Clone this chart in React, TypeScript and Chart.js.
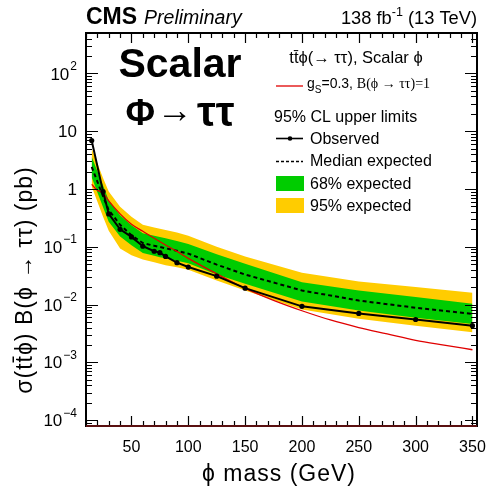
import { useEffect, useRef } from "react";
import { Chart, registerables } from "chart.js";

Chart.register(...registerables);

// Scalar phi mass points (GeV) and 95% CL upper limits on sigma x B (pb)
const massPoints = [15, 25, 30, 40, 50, 60, 70, 75, 80, 90, 100, 125, 150, 200, 250, 300, 350];
const observedLimit = [6.9, 0.9, 0.37, 0.2, 0.148, 0.102, 0.0835, 0.079, 0.068, 0.053, 0.0445, 0.031, 0.0192, 0.0093, 0.007, 0.0055, 0.0043];
const expectedMedian = [2.4, 0.75, 0.43, 0.24, 0.158, 0.116, 0.104, 0.099, 0.094, 0.085, 0.076, 0.049, 0.033, 0.0175, 0.0117, 0.0088, 0.0069];
const expected68Up = [3.6, 1.15, 0.64, 0.35, 0.236, 0.172, 0.155, 0.147, 0.14, 0.126, 0.112, 0.074, 0.051, 0.0244, 0.0175, 0.0135, 0.0103];
const expected68Down = [1.6, 0.48, 0.27, 0.15, 0.106, 0.078, 0.07, 0.066, 0.063, 0.057, 0.052, 0.033, 0.0229, 0.0113, 0.0079, 0.0059, 0.0046];
const expected95Up = [5.0, 1.55, 0.9, 0.49, 0.33, 0.24, 0.216, 0.205, 0.195, 0.176, 0.155, 0.1, 0.068, 0.0356, 0.025, 0.02, 0.016];
const expected95Down = [1.1, 0.33, 0.19, 0.093, 0.071, 0.06, 0.054, 0.051, 0.048, 0.044, 0.04, 0.026, 0.0175, 0.0082, 0.0057, 0.0043, 0.0033];

// Theory prediction for g_S = 0.3, B(phi -> tau tau) = 1
const theoryMass = [15, 20, 25, 30, 40, 50, 60, 70, 80, 90, 100, 125, 150, 175, 200, 225, 250, 275, 300, 325, 350];
const theoryXsec = [1.2, 0.95, 0.85, 0.62, 0.37, 0.245, 0.185, 0.14, 0.107, 0.083, 0.063, 0.034, 0.019, 0.0118, 0.0078, 0.0054, 0.004, 0.0031, 0.0024, 0.00198, 0.00165];

// Axis tick labels
const xTickValues = [50, 100, 150, 200, 250, 300, 350];
const yDecades = [-4, -3, -2, -1, 0, 1, 2];

const GREEN = "#00cc00";
const YELLOW = "#ffcc00";
const RED = "#e00000";
const SANS = '"Liberation Sans", Arial, Helvetica, sans-serif';
const SERIF = '"Liberation Serif", "Times New Roman", serif';

type Ctx = CanvasRenderingContext2D;

function text(ctx: Ctx, s: string, x: number, y: number, font: string, align: CanvasTextAlign = "left", base: CanvasTextBaseline = "alphabetic") {
  ctx.font = font;
  ctx.textAlign = align;
  ctx.textBaseline = base;
  ctx.fillText(s, x, y);
  return ctx.measureText(s).width;
}

const framePlugin = {
  id: "rootFrame",
  afterDraw(chart: Chart) {
    const ctx = chart.ctx;
    const { left, right, top, bottom } = chart.chartArea;
    const xs = chart.scales.x;
    const ys = chart.scales.y;
    ctx.save();
    ctx.fillStyle = "#000";
    ctx.strokeStyle = "#000";

    // ticks on all four sides
    ctx.lineWidth = 1.2;
    ctx.beginPath();
    for (let m = 10; m <= 350; m += 10) {
      const px = Math.round(xs.getPixelForValue(m)) + 0.5;
      const len = m % 50 === 0 ? 10 : 5;
      ctx.moveTo(px, bottom);
      ctx.lineTo(px, bottom - len);
      ctx.moveTo(px, top);
      ctx.lineTo(px, top + len);
    }
    for (let d = -5; d <= 2; d++) {
      for (let k = 1; k <= 9; k++) {
        const v = k * Math.pow(10, d);
        if (v < ys.min || v > ys.max) continue;
        const py = Math.round(ys.getPixelForValue(v)) + 0.5;
        const len = k === 1 ? 12 : 6;
        ctx.moveTo(left, py);
        ctx.lineTo(left + len, py);
        ctx.moveTo(right, py);
        ctx.lineTo(right - len, py);
      }
    }
    ctx.stroke();

    // frame
    ctx.lineWidth = 2;
    ctx.strokeRect(left, top, right - left, bottom - top);
    ctx.strokeStyle = "#5a1010";
    ctx.beginPath();
    ctx.moveTo(left, bottom);
    ctx.lineTo(right, bottom);
    ctx.stroke();

    // x tick labels
    for (const v of xTickValues) {
      text(ctx, String(v), xs.getPixelForValue(v), 448, `16px ${SANS}`, "center", "middle");
    }
    // y tick labels
    const labelRight = 77;
    for (const d of yDecades) {
      const py = ys.getPixelForValue(Math.pow(10, d)) + 1.5;
      if (d === 0 || d === 1) {
        text(ctx, d === 0 ? "1" : "10", labelRight, py, `17px ${SANS}`, "right", "middle");
      } else {
        const sup = d < 0 ? "\u2212" + String(-d) : String(d);
        ctx.font = `12px ${SANS}`;
        const sw = ctx.measureText(sup).width;
        text(ctx, sup, labelRight, py - 5, `12px ${SANS}`, "right", "alphabetic");
        text(ctx, "10", labelRight - sw - 1, py, `17px ${SANS}`, "right", "middle");
      }
    }

    // axis titles
    (ctx as any).letterSpacing = "1px";
    text(ctx, "\u03d5 mass (GeV)", 279, 481, `23px ${SANS}`, "center", "alphabetic");
    ctx.save();
    ctx.translate(32, 280);
    ctx.rotate(-Math.PI / 2);
    text(ctx, "\u03c3(tt\u0304\u03d5) B(\u03d5 \u2192 \u03c4\u03c4) (pb)", 0, 0, `23px ${SANS}`, "center", "alphabetic");
    ctx.restore();
    (ctx as any).letterSpacing = "0px";

    // header
    const w1 = text(ctx, "CMS", 86, 24, `bold 23px ${SANS}`);
    text(ctx, "Preliminary", 86 + w1 + 7, 24, `italic 19.5px ${SANS}`);
    const tail = " (13 TeV)";
    ctx.font = `18.3px ${SANS}`;
    const wTail = ctx.measureText(tail).width;
    ctx.font = `12.5px ${SANS}`;
    const wSup = ctx.measureText("-1").width;
    text(ctx, tail, 477, 24, `18.3px ${SANS}`, "right");
    text(ctx, "-1", 477 - wTail, 16, `12.5px ${SANS}`, "right");
    text(ctx, "138 fb", 477 - wTail - wSup, 24, `18.3px ${SANS}`, "right");

    // big labels
    text(ctx, "Scalar", 180, 77, `bold 41px ${SANS}`, "center");
    {
      ctx.font = `bold 36px ${SANS}`;
      const a = ctx.measureText("\u03a6").width;
      ctx.font = `bold 42px ${SANS}`;
      const c = ctx.measureText("\u03c4\u03c4").width;
      ctx.font = `36px ${SANS}`;
      const b = ctx.measureText("\u2192").width;
      let x = 180 - (a + b + c + 6) / 2;
      text(ctx, "\u03a6", x, 125, `bold 36px ${SANS}`);
      x += a + 2;
      text(ctx, "\u2192", x, 122, `36px ${SANS}`);
      x += b + 4;
      text(ctx, "\u03c4\u03c4", x, 126, `bold 42px ${SANS}`);
    }

    // legend
    const LF = `16px ${SANS}`;
    text(ctx, "tt\u0304\u03d5(\u2192 \u03c4\u03c4), Scalar \u03d5", 356, 63, `16.5px ${SANS}`, "center");
    ctx.strokeStyle = RED;
    ctx.lineWidth = 1.3;
    ctx.beginPath();
    ctx.moveTo(276, 86);
    ctx.lineTo(303, 86);
    ctx.stroke();
    {
      let x = 307;
      x += text(ctx, "g", x, 88, `14px ${SANS}`);
      x += text(ctx, "S", x, 93, `10px ${SANS}`);
      x += text(ctx, "=0.3, ", x, 88, `14px ${SANS}`);
      text(ctx, "B(\u03d5 \u2192 \u03c4\u03c4)=1", x, 88, `14px ${SERIF}`);
    }
    text(ctx, "95% CL upper limits", 274, 122, LF);
    ctx.strokeStyle = "#000";
    ctx.lineWidth = 1.6;
    ctx.beginPath();
    ctx.moveTo(276, 138.5);
    ctx.lineTo(303, 138.5);
    ctx.stroke();
    ctx.beginPath();
    ctx.arc(290, 138.5, 2.3, 0, Math.PI * 2);
    ctx.fill();
    text(ctx, "Observed", 310, 144, LF);
    ctx.setLineDash([3, 2]);
    ctx.lineWidth = 1.3;
    ctx.beginPath();
    ctx.moveTo(276, 161.5);
    ctx.lineTo(303, 161.5);
    ctx.stroke();
    ctx.setLineDash([]);
    text(ctx, "Median expected", 310, 166, LF);
    ctx.fillStyle = GREEN;
    ctx.fillRect(276, 176, 28, 15);
    ctx.fillStyle = YELLOW;
    ctx.fillRect(276, 198, 28, 15);
    ctx.fillStyle = "#000";
    text(ctx, "68% expected", 310, 188.5, LF);
    text(ctx, "95% expected", 310, 210.5, LF);

    ctx.restore();
  },
};

export default function App() {
  const ref = useRef<HTMLCanvasElement>(null);

  useEffect(() => {
    document.body.style.margin = "0";
    const canvas = ref.current;
    if (!canvas) return;
    const pts = (ys: number[], xs: number[] = massPoints) => xs.map((x, i) => ({ x, y: ys[i] }));
    const band = { borderWidth: 0, pointRadius: 0, borderColor: "rgba(0,0,0,0)" };

    const chart = new Chart(canvas, {
      type: "line",
      data: {
        datasets: [
          { ...band, data: pts(expected95Up), fill: 1, backgroundColor: YELLOW, order: 5 },
          { ...band, data: pts(expected95Down), fill: false, order: 5 },
          { ...band, data: pts(expected68Up), fill: 3, backgroundColor: GREEN, order: 4 },
          { ...band, data: pts(expected68Down), fill: false, order: 4 },
          {
            data: pts(expectedMedian),
            borderColor: "#000",
            borderWidth: 2,
            borderDash: [4, 3],
            pointRadius: 0,
            fill: false,
            order: 3,
          },
          {
            data: pts(theoryXsec, theoryMass),
            borderColor: RED,
            borderWidth: 1.3,
            pointRadius: 0,
            fill: false,
            cubicInterpolationMode: "monotone",
            order: 2,
          },
          {
            data: pts(observedLimit),
            borderColor: "#000",
            borderWidth: 2,
            pointRadius: 2.6,
            pointBackgroundColor: "#000",
            pointBorderWidth: 0,
            fill: false,
            order: 1,
          },
        ],
      },
      options: {
        responsive: false,
        animation: false,
        events: [],
        layout: { padding: { top: 33, right: 9, left: 0, bottom: 0 } },
        elements: { line: { tension: 0 } },
        plugins: {
          legend: { display: false },
          tooltip: { enabled: false },
          title: { display: false },
        },
        scales: {
          x: {
            type: "linear",
            min: 10,
            max: 354,
            grid: { display: false },
            border: { display: false },
            ticks: { display: false },
            afterFit: (s: any) => {
              s.height = 62;
            },
          },
          y: {
            type: "logarithmic",
            min: 7.9e-5,
            max: 500,
            grid: { display: false },
            border: { display: false },
            ticks: { display: false },
            afterFit: (s: any) => {
              s.width = 86;
            },
          },
        },
      } as any,
      plugins: [framePlugin as any],
    });
    return () => chart.destroy();
  }, []);

  return (
    <div style={{ width: 486, height: 488 }}>
      <canvas ref={ref} width={486} height={488} style={{ display: "block" }} />
    </div>
  );
}
